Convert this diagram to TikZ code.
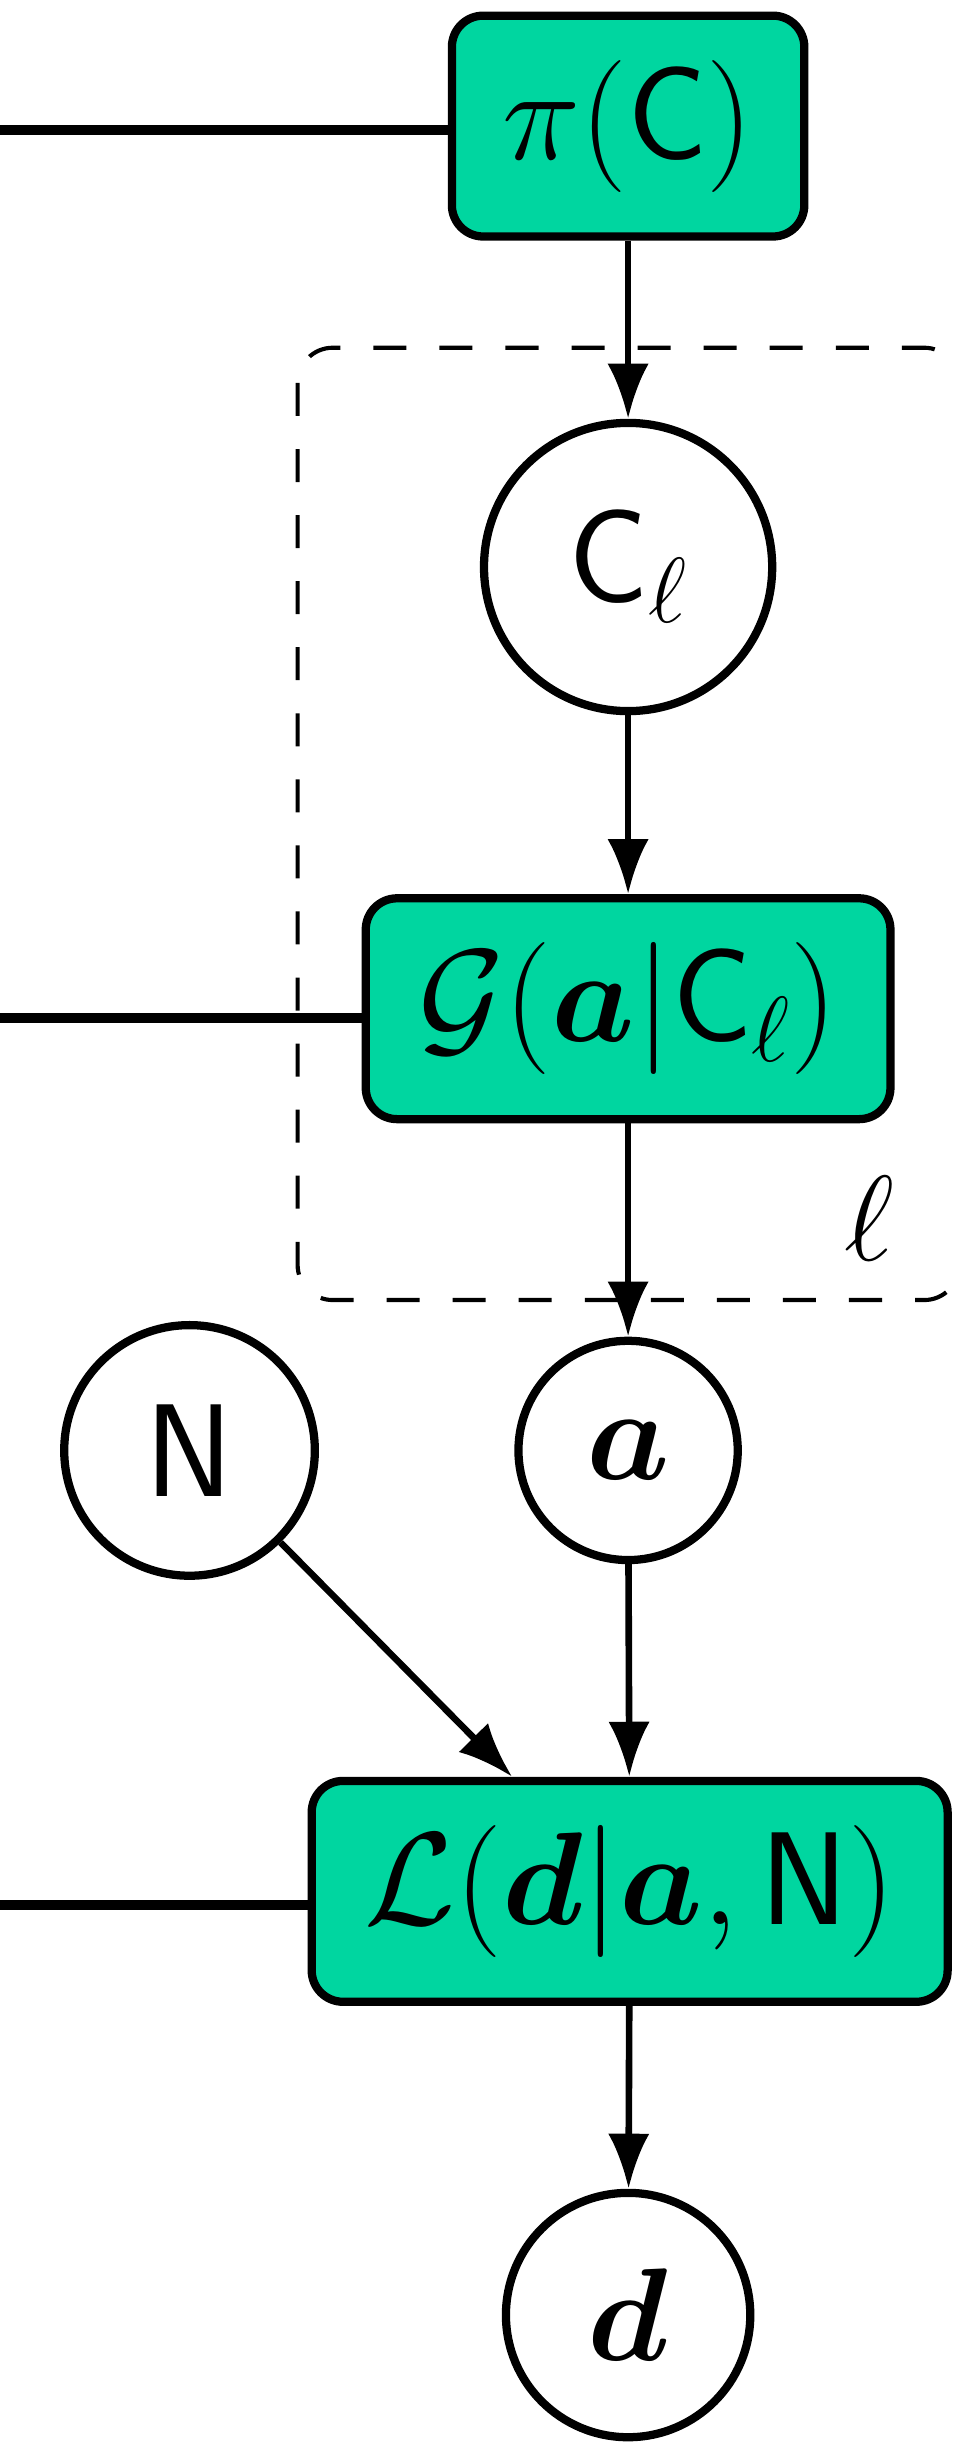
\RequirePackage{fix-cm}
\documentclass[tikz,border=0pt]{standalone}
\usepackage{bm}
\usetikzlibrary{arrows.meta}
\definecolor{facgreen}{RGB}{0,214,160}

\begin{document}
\begin{tikzpicture}[
  fct/.style={draw, line width=3pt, rectangle, rounded corners=0.4cm, fill=facgreen,
              minimum height=2.82cm, align=center, inner sep=0pt,
              font=\fontsize{48}{52}\selectfont},
  var/.style={draw, line width=3pt, circle, inner sep=0pt,
              font=\fontsize{48}{52}\selectfont},
  arr/.style={line width=2.4pt, -{Latex[length=20pt, width=15pt]}},
  lnk/.style={line width=3.6pt}
]
\useasboundingbox (0,0) rectangle (12.16,-31.36);
\draw[dash pattern=on 12pt off 12pt, line width=1.5pt, rounded corners=0.45cm]
  (3.8,-4.44) rectangle (12.25,-16.6);
\node[fct, minimum width=4.5cm]  (prior) at (8.02, -1.61)  {$\pi(\mathsf{C})$};
\node[var, minimum size=3.68cm]  (cl)    at (8.02, -7.24)  {$\mathsf{C}_\ell$};
\node[fct, minimum width=6.7cm]  (gen)   at (8.02, -12.88) {$\mathcal{G}(\bm{a}|\mathsf{C}_\ell)$};
\node[font=\fontsize{44}{48}\selectfont] (lbl) at (11.1, -15.56) {$\ell$};
\node[var, minimum size=2.8cm]   (a)     at (8.02, -18.52) {$\bm{a}$};
\node[var, minimum size=3.2cm]   (noise) at (2.42, -18.52) {$\mathsf{N}$};
\node[fct, minimum width=8.12cm] (lik)   at (8.04, -24.15) {$\mathcal{L}(\bm{d}|\bm{a},\mathsf{N})$};
\node[var, minimum size=3.12cm]  (d)     at (8.02, -29.56) {$\bm{d}$};
\coordinate (lp) at (0, -1.66);
\coordinate (lg) at (0, -13.0);
\coordinate (ll) at (0, -24.32);
\draw[lnk] (lp) -- (prior.west |- lp);
\draw[lnk] (lg) -- (gen.west |- lg);
\draw[lnk] (ll) -- (lik.west |- ll);
\draw[arr] (prior) -- (cl);
\draw[arr] (cl)    -- (gen);
\draw[arr] (gen)   -- (a);
\draw[arr] (a)     -- (lik);
\draw[arr] (noise) -- ([xshift=-1.5cm]lik.north);
\draw[arr] (lik)   -- (d);
\end{tikzpicture}
\end{document}
